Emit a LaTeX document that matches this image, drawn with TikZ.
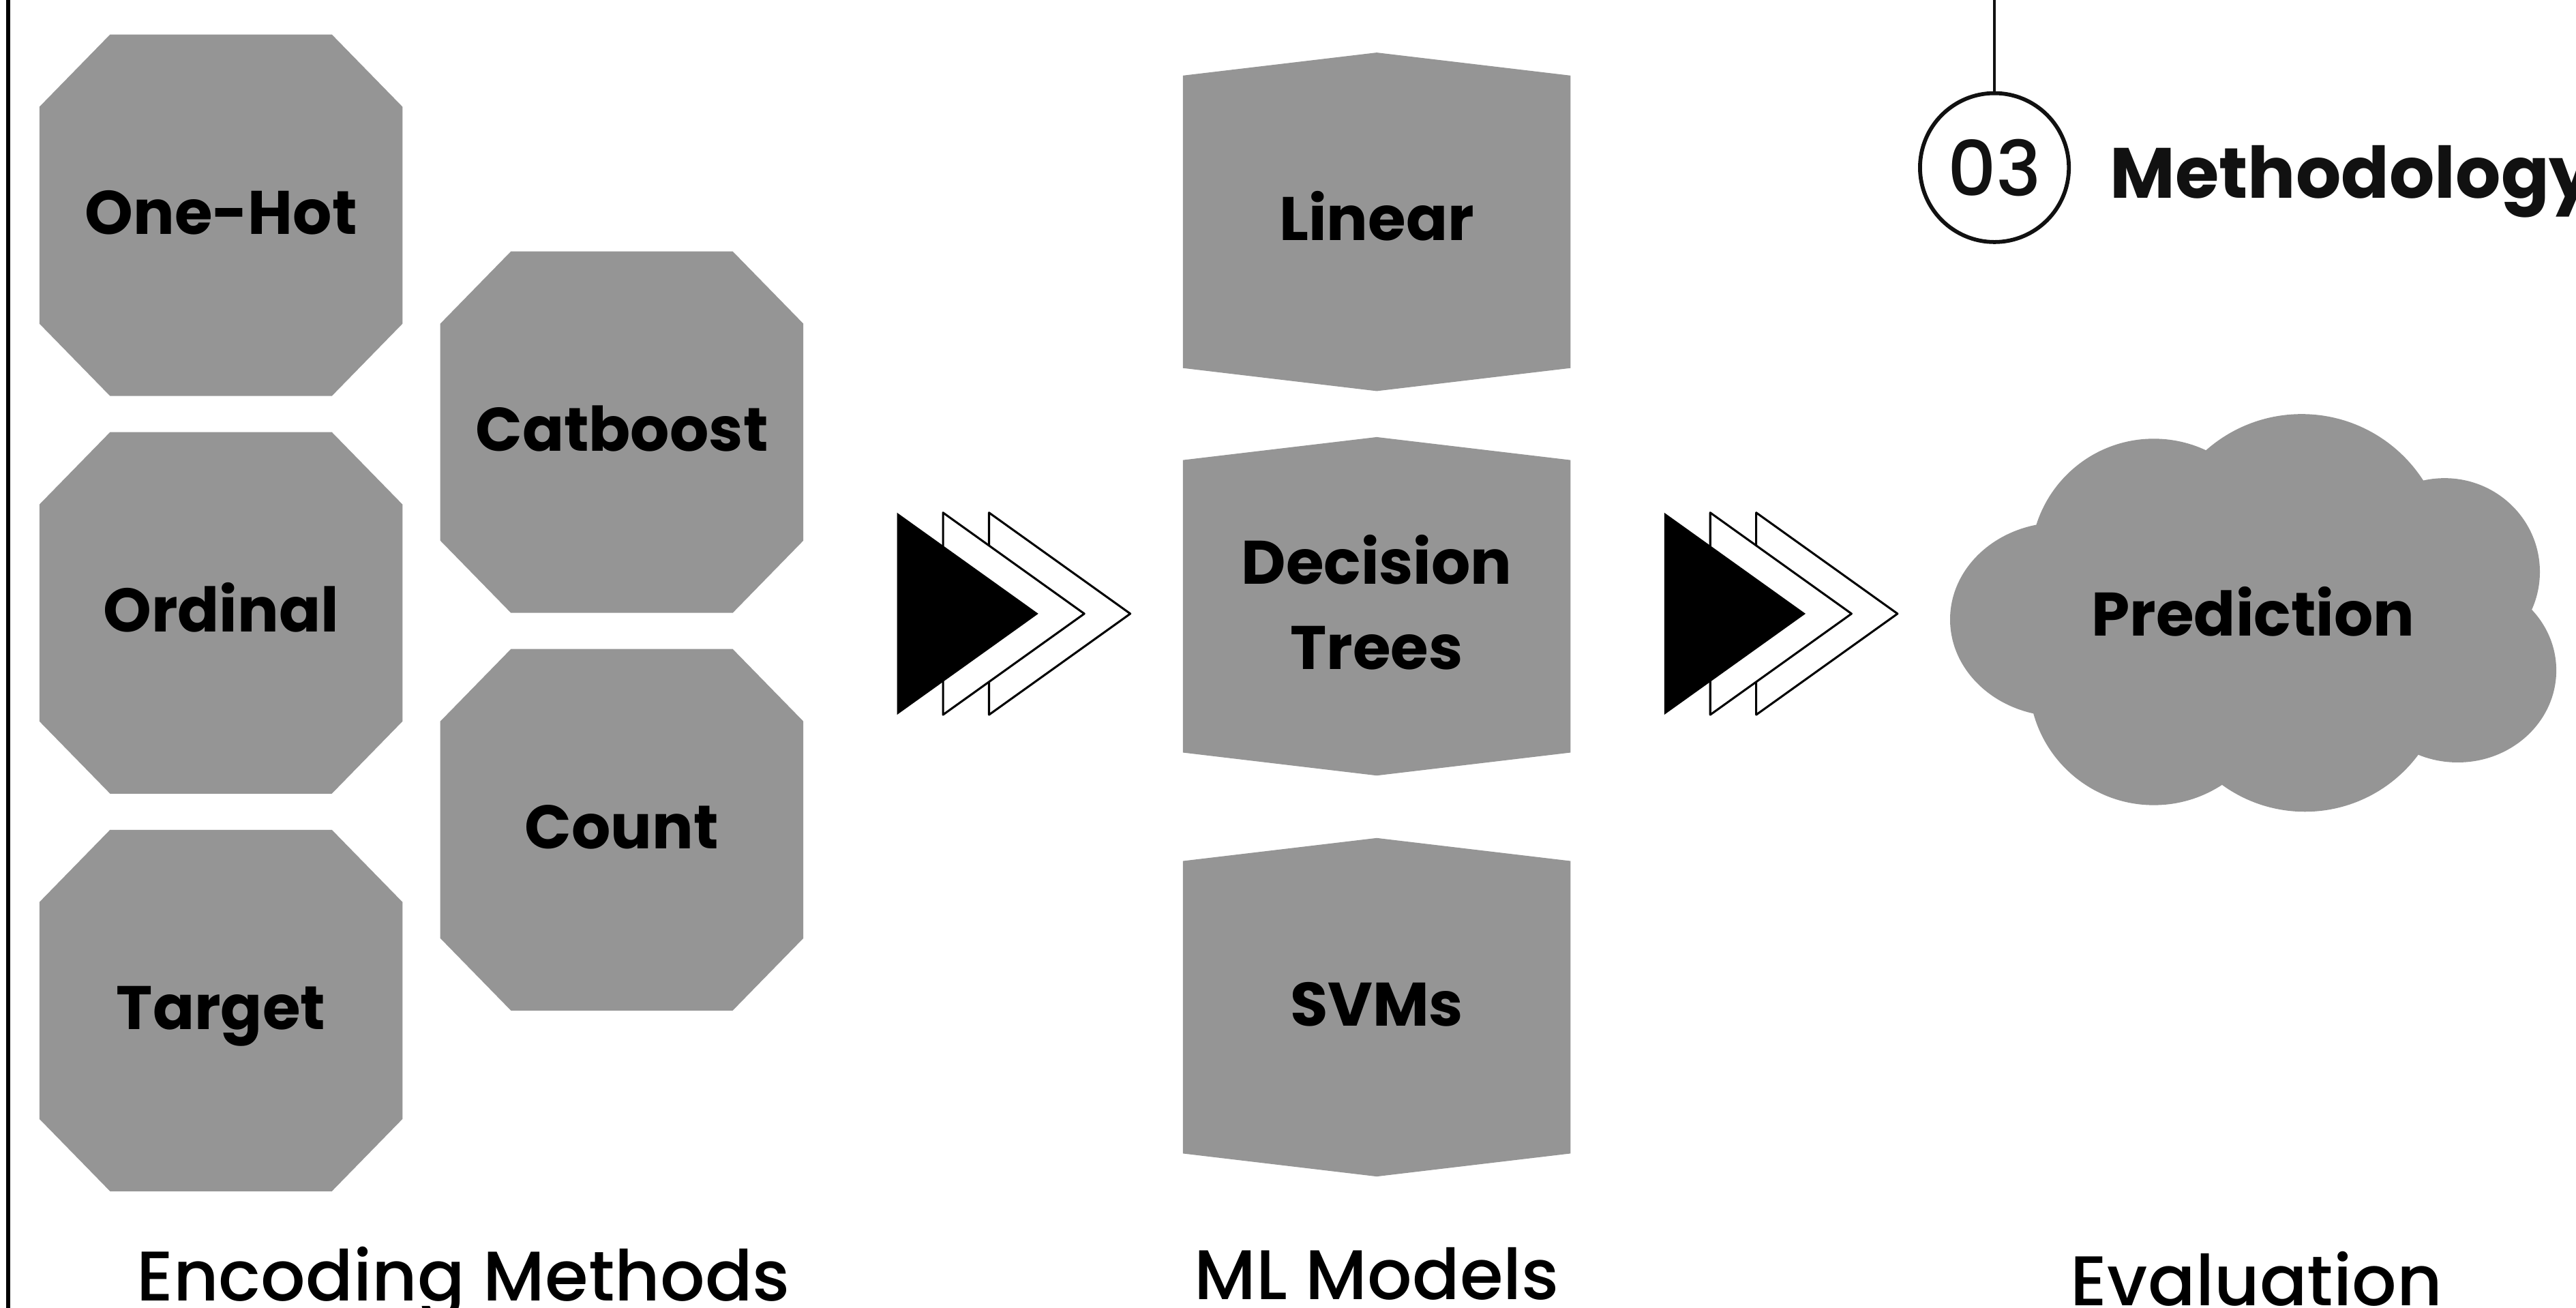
\documentclass[tikz,border=0pt]{standalone}
\usepackage{fontspec}
\setmainfont{Poppins}
\newfontfamily\pmedium{Poppins Medium}
\definecolor{gry}{HTML}{959595}
\definecolor{ink}{HTML}{111111}
\begin{document}
\begin{tikzpicture}[x=0.25mm,y=-0.25mm,
  lbl/.style={font=\bfseries\fontsize{26.6}{37}\selectfont, inner sep=0, anchor=base, text=black},
  caption/.style={font=\pmedium\fontsize{30.4}{36}\selectfont, inner sep=0, anchor=base, text=black},
  chev/.style={draw=black, fill=white, line width=0.9pt, line join=round},
]
\useasboundingbox (0,0) rectangle (1568,796);

% left border rule
\draw[black, line width=0.65mm] (5,0) -- (5,796);

% encoding methods: octagons
\foreach \nm/\cx/\cy/\txt in {onehot/134.5/131/One-Hot, ordinal/134.5/373/Ordinal, target/134.5/615/Target, catboost/378.5/263/Catboost, count/378.5/505/Count} {
  \fill[gry] (\cx-67.5,\cy-110) -- (\cx+67.5,\cy-110) -- (\cx+110.5,\cy-66) -- (\cx+110.5,\cy+66)
    -- (\cx+67.5,\cy+110) -- (\cx-67.5,\cy+110) -- (\cx-110.5,\cy+66) -- (\cx-110.5,\cy-66) -- cycle;
  \node[lbl] (\nm) at (\cx,\cy+11.4) {\txt};
}

% ML models: pointed hexagons
\foreach \cy in {135,369,613} {
  \fill[gry] (720,\cy-89) -- (838,\cy-103) -- (956,\cy-89) -- (956,\cy+89)
    -- (838,\cy+103) -- (720,\cy+89) -- cycle;
}
\node[lbl] (linear) at (838,146.4) {Linear};
\node[lbl, anchor=center, align=center] (dtree) at (838,366.5) {Decision\\Trees};
\node[lbl] (svm) at (838,624.4) {SVMs};

% step arrows
\foreach \x in {546,1013} {
  \filldraw[chev] (\x+56,312) -- (\x+142,373.5) -- (\x+56,435) -- cycle;
  \filldraw[chev] (\x+28,312) -- (\x+114,373.5) -- (\x+28,435) -- cycle;
  \fill[black] (\x,312) -- (\x+86,373.5) -- (\x,435) -- cycle;
}

% evaluation: cloud built from overlapping lobes
\fill[gry] (1250,340) -- (1345,300) -- (1470,300) -- (1530,380) -- (1468,455) -- (1353,470) -- (1250,420) -- cycle;
\fill[gry] (1254,377) ellipse [x radius=67, y radius=59];
\fill[gry] (1311,342) circle [radius=75];
\fill[gry] (1401,340) circle [radius=88];
\fill[gry] (1488,348) ellipse [x radius=58, y radius=57];
\fill[gry] (1496,408) ellipse [x radius=60, y radius=56];
\fill[gry] (1403,408) circle [radius=86];
\fill[gry] (1311,414) circle [radius=76];
\node[lbl] (pred) at (1371.5,387.1) {Prediction};

% section marker
\node[draw=ink, line width=0.6mm, circle, inner sep=0, minimum size=22.65mm,
  font=\pmedium\fontsize{33}{40}\selectfont, text=ink] (num) at (1214,102) {03};
\coordinate (hang) at (1214,0);
\draw[ink, line width=0.45mm] (num.north) -- (hang);
\node[font=\bfseries\fontsize{30.8}{37}\selectfont, text=ink, inner sep=0, anchor=base west]
  (title) at (1284,120.4) {Methodology};

% column captions
\node[caption] (capenc) at (282,791.5) {Encoding Methods};
\node[caption] (capml) at (838,790.7) {ML Models};
\node[caption] (capev) at (1373.5,794.6) {Evaluation};
\end{tikzpicture}
\end{document}
